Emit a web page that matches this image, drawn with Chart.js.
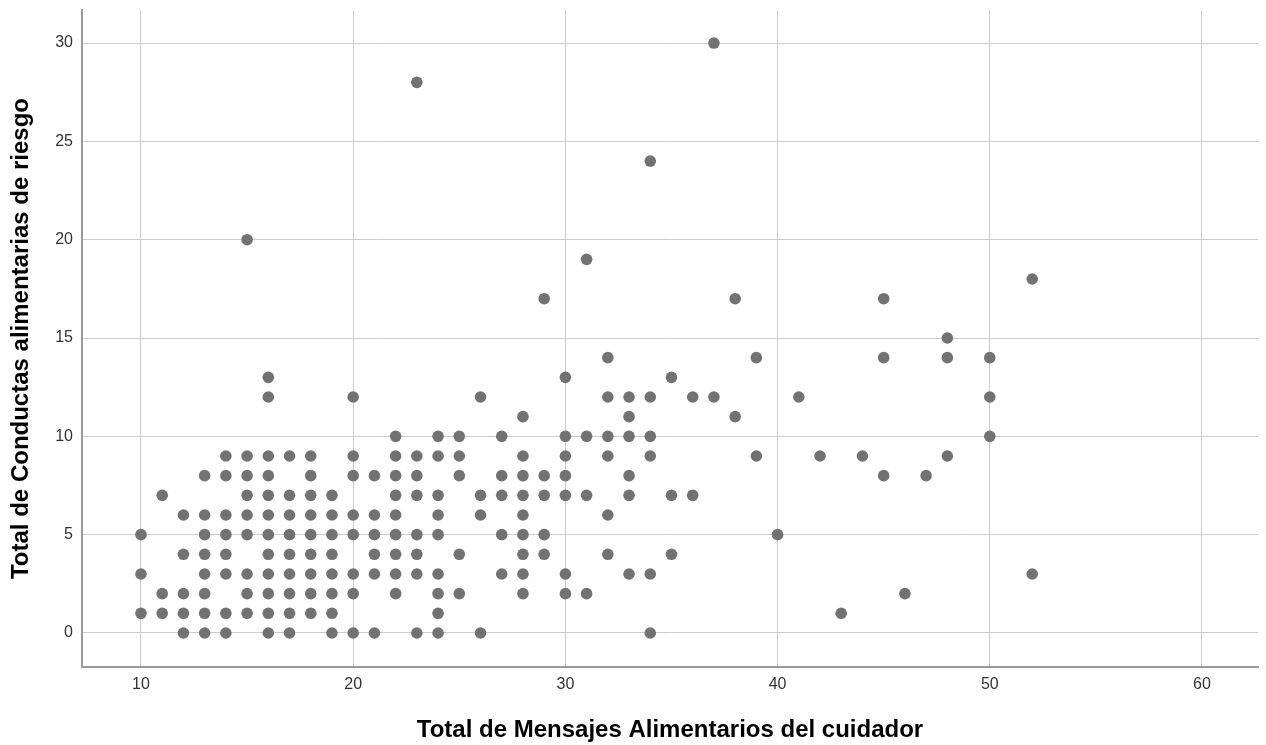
<!DOCTYPE html>
<html>
<head>
<meta charset="utf-8">
<script src="https://cdn.jsdelivr.net/npm/chart.js@4"></script>
<style>
  html, body { margin: 0; padding: 0; background: #fff; }
  #wrap { width: 1266px; height: 745px; }
</style>
</head>
<body>
<div id="wrap"><canvas id="myChart"></canvas></div>
<script>
// Total de Mensajes Alimentarios del cuidador (x) and the risk scores seen at each x
var mensajes = [10, 11, 12, 13, 14, 15, 16, 17, 18, 19, 20, 21, 22, 23, 24, 25, 26, 27, 28, 29,
                30, 31, 32, 33, 34, 35, 36, 37, 38, 39, 40, 41, 42, 43, 44, 45, 46, 47, 48, 50, 52];
var conductas = [
  [5, 3, 1],
  [7, 2, 1],
  [6, 4, 2, 1, 0],
  [8, 6, 5, 4, 3, 2, 1, 0],
  [9, 8, 6, 5, 4, 3, 1, 0],
  [20, 9, 8, 7, 6, 5, 3, 2, 1],
  [13, 12, 9, 8, 7, 6, 5, 4, 3, 2, 1, 0],
  [9, 7, 6, 5, 4, 3, 2, 1, 0],
  [9, 8, 7, 6, 5, 4, 3, 2, 1],
  [7, 6, 5, 4, 3, 2, 1, 0],
  [12, 9, 8, 6, 5, 3, 2, 0],
  [8, 6, 5, 4, 3, 0],
  [10, 9, 8, 7, 6, 5, 4, 3, 2],
  [28, 9, 8, 7, 5, 4, 3, 0],
  [10, 9, 7, 6, 5, 3, 2, 1, 0],
  [10, 9, 8, 4, 2],
  [12, 7, 6, 0],
  [10, 8, 7, 5, 3],
  [11, 9, 8, 7, 6, 5, 4, 3, 2],
  [17, 8, 7, 5, 4],
  [13, 10, 9, 8, 7, 3, 2],
  [19, 10, 7, 2],
  [14, 12, 10, 9, 6, 4],
  [12, 11, 10, 8, 7, 3],
  [24, 12, 10, 9, 3, 0],
  [13, 7, 4],
  [12, 7],
  [30, 12],
  [17, 11],
  [14, 9],
  [5],
  [12],
  [9],
  [1],
  [9],
  [17, 14, 8],
  [2],
  [8],
  [15, 14, 9],
  [14, 12, 10],
  [18, 3]
];
var xTicks = [10, 20, 30, 40, 50, 60];
var yTicks = [0, 5, 10, 15, 20, 25, 30];

var points = [];
mensajes.forEach(function (x, i) {
  conductas[i].forEach(function (y) {
    points.push({ x: x, y: y });
  });
});

function setTicks(list) {
  return function (scale) {
    scale.ticks = list.map(function (v) { return { value: v }; });
  };
}

new Chart("myChart", {
  type: "scatter",
  data: {
    datasets: [{
      data: points,
      backgroundColor: "#727272",
      borderColor: "#727272",
      borderWidth: 0,
      pointRadius: 5.8,
      pointHoverRadius: 5.8
    }]
  },
  options: {
    responsive: true,
    maintainAspectRatio: false,
    animation: false,
    events: [],
    layout: { padding: { left: 0, top: 10, right: 8, bottom: 0 } },
    plugins: { legend: { display: false }, tooltip: { enabled: false } },
    scales: {
      x: {
        type: "linear",
        min: 7.22,
        max: 62.64,
        afterBuildTicks: setTicks(xTicks),
        afterFit: function (scale) {
          scale.height = 78;
          scale.paddingLeft = 0;
          scale.paddingRight = 0;
        },
        grid: { color: "#cccccc", lineWidth: 1, drawTicks: false },
        border: { color: "#999999", width: 2 },
        ticks: { color: "#333", padding: 8, font: { family: "Liberation Sans, Arial", size: 16 } },
        title: {
          display: true,
          text: "Total de Mensajes Alimentarios del cuidador",
          color: "#000",
          font: { family: "Liberation Sans, Arial", size: 24, weight: "bold" },
          padding: { top: 0, bottom: 0 }
        }
      },
      y: {
        type: "linear",
        min: -1.73,
        max: 31.68,
        afterBuildTicks: setTicks(yTicks),
        afterFit: function (scale) {
          scale.width = 82;
          scale.paddingTop = 0;
          scale.paddingBottom = 0;
        },
        grid: { color: "#cccccc", lineWidth: 1, drawTicks: false },
        border: { color: "#999999", width: 2 },
        ticks: { color: "#333", padding: 9, font: { family: "Liberation Sans, Arial", size: 16 } },
        title: {
          display: true,
          text: "Total de Conductas alimentarias de riesgo",
          color: "#000",
          font: { family: "Liberation Sans, Arial", size: 24, weight: "bold" },
          padding: { top: 7, bottom: 0 }
        }
      }
    }
  }
});
</script>
</body>
</html>
